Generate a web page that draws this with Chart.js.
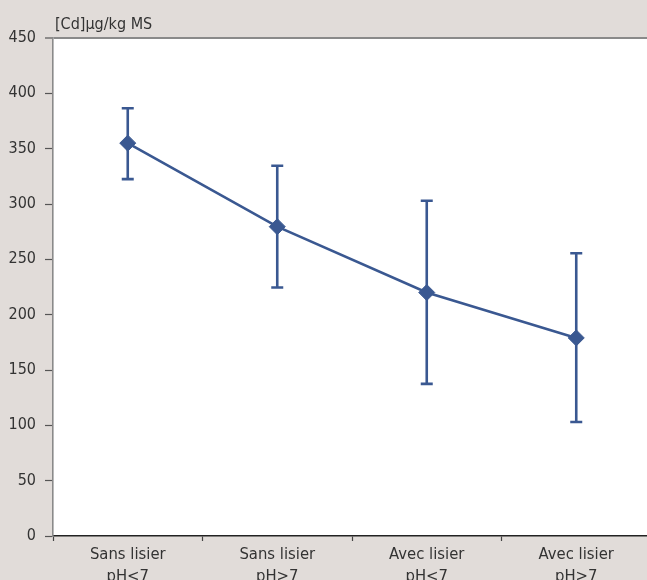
<!DOCTYPE html>
<html>
<head>
<meta charset="utf-8">
<script src="https://cdn.jsdelivr.net/npm/chart.js@4/dist/chart.umd.min.js"></script>
<style>
  html, body { margin: 0; padding: 0; overflow: hidden; background: #e1dcd9; }
  #wrap { width: 660px; height: 580px; }
</style>
</head>
<body>
<div id="wrap"><canvas id="c" width="660" height="580"></canvas></div>
<script>
// ---- Data ----
const categories = [["Sans lisier", "pH<7"], ["Sans lisier", "pH>7"], ["Avec lisier", "pH<7"], ["Avec lisier", "pH>7"]];
const meanValues = [355, 279.5, 220, 179];
const upperValues = [386.5, 334.5, 303, 255.5];
const lowerValues = [322.5, 224.5, 137.5, 103];
const yTicks = [0, 50, 100, 150, 200, 250, 300, 350, 400, 450];
const yTitle = "[Cd]µg/kg MS";

const FONT = "'Liberation Sans Narrow', 'DejaVu Sans Condensed', 'Arial Narrow', sans-serif";
const BLUE = '#3a5891';
const BG = '#e1dcd9';
const TEXT = '#333333';

const bgPlugin = {
  id: 'bg',
  beforeDraw(chart) {
    const { ctx, chartArea: a } = chart;
    ctx.save();
    ctx.fillStyle = BG;
    ctx.fillRect(0, 0, chart.width, chart.height);
    ctx.fillStyle = '#ffffff';
    ctx.fillRect(a.left, a.top, a.right - a.left, a.bottom - a.top);
    ctx.restore();
  }
};

const titlePlugin = {
  id: 'ytitle',
  afterDraw(chart) {
    const { ctx, chartArea: a } = chart;
    ctx.save();
    ctx.font = "16px " + FONT;
    ctx.fillStyle = TEXT;
    ctx.textAlign = 'left';
    ctx.textBaseline = 'alphabetic';
    ctx.fillText(yTitle, a.left + 2, a.top - 9);
    ctx.restore();
  }
};

const errorBarPlugin = {
  id: 'errbars',
  beforeDatasetsDraw(chart) {
    const { ctx, scales: { x, y } } = chart;
    ctx.save();
    ctx.strokeStyle = BLUE;
    ctx.lineWidth = 2.6;
    const cap = 6;
    for (let i = 0; i < meanValues.length; i++) {
      const px = x.getPixelForValue(i);
      const yt = y.getPixelForValue(upperValues[i]);
      const yb = y.getPixelForValue(lowerValues[i]);
      ctx.beginPath();
      ctx.moveTo(px, yt); ctx.lineTo(px, yb);
      ctx.moveTo(px - cap, yt); ctx.lineTo(px + cap, yt);
      ctx.moveTo(px - cap, yb); ctx.lineTo(px + cap, yb);
      ctx.stroke();
    }
    ctx.restore();
  }
};

new Chart(document.getElementById('c'), {
  type: 'line',
  data: {
    labels: categories,
    datasets: [{
      data: meanValues,
      borderColor: BLUE,
      backgroundColor: BLUE,
      borderWidth: 2.6,
      pointStyle: 'rectRot',
      pointRadius: 8,
      pointBorderWidth: 1,
      pointBackgroundColor: BLUE,
      pointBorderColor: BLUE,
      tension: 0,
      fill: false
    }]
  },
  options: {
    responsive: false,
    animation: false,
    devicePixelRatio: 1,
    layout: { padding: { top: 38, right: 7, left: 0, bottom: 0 } },
    plugins: { legend: { display: false }, tooltip: { enabled: false }, title: { display: false } },
    scales: {
      x: {
        type: 'category',
        offset: true,
        afterFit(s) { s.height = 44; },
        grid: { offset: true, drawOnChartArea: false, tickLength: 5, tickColor: '#444', tickWidth: 1.2 },
        border: { display: true, color: '#222', width: 1.6 },
        ticks: {
          color: TEXT,
          font: { family: FONT, size: 16.5, lineHeight: 1.33 },
          padding: 3,
          maxRotation: 0,
          autoSkip: false
        }
      },
      y: {
        min: 0, max: 450,
        afterFit(s) { s.width = 53; },
        afterBuildTicks(s) { s.ticks = yTicks.map(v => ({ value: v })); },
        grid: {
          drawOnChartArea: true,
          color: c => (c.tick && c.tick.value === 450) ? '#8a8a8a' : 'rgba(0,0,0,0)',
          lineWidth: c => (c.tick && c.tick.value === 450) ? 2 : 1,
          tickLength: 8,
          tickColor: '#555',
          tickWidth: 1.2
        },
        border: { display: true, color: '#8a8a8a', width: 1.6 },
        ticks: {
          color: TEXT,
          font: { family: FONT, size: 16 },
          padding: 9
        }
      }
    }
  },
  plugins: [bgPlugin, errorBarPlugin, titlePlugin]
});
</script>
</body>
</html>
